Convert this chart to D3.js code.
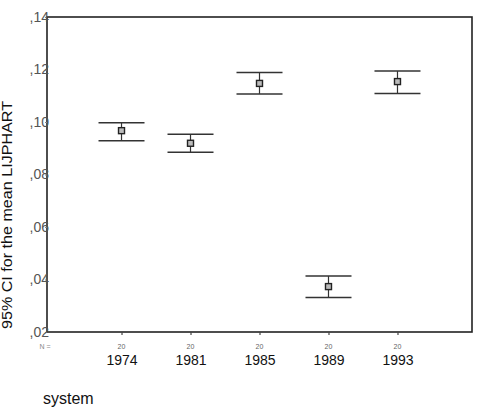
<!DOCTYPE html>
<html>
<head>
<meta charset="utf-8">
<script src="https://cdn.jsdelivr.net/npm/d3@7/dist/d3.min.js"></script>
<style>
  html, body { margin: 0; padding: 0; background: #fff; }
  svg { display: block; font-family: Arial, "Liberation Sans", sans-serif; }
</style>
</head>
<body>
<svg id="chart" width="482" height="409"></svg>
<script>
// Election years (categories), group sizes and 95% confidence intervals of LIJPHART
const years = ["1974", "1981", "1985", "1989", "1993"];
const nValues = [20, 20, 20, 20, 20];
const means = [0.0967, 0.0919, 0.1147, 0.0373, 0.1154];
const lower = [0.0929, 0.0885, 0.1107, 0.0331, 0.1109];
const upper = [0.0997, 0.0953, 0.1189, 0.0413, 0.1194];
const yTicks = [0.02, 0.04, 0.06, 0.08, 0.10, 0.12, 0.14];
const yTickLabels = [",02", ",04", ",06", ",08", ",10", ",12", ",14"];

const svg = d3.select("#chart");
const frame = { left: 47, right: 472, top: 17, bottom: 332 };

const x = d3.scalePoint()
  .domain(years)
  .range([frame.left, frame.right])
  .padding(1.08);

const y = d3.scaleLinear()
  .domain([0.02, 0.14])
  .range([frame.bottom, frame.top]);

// plot frame
svg.append("rect")
  .attr("x", frame.left).attr("y", frame.top)
  .attr("width", frame.right - frame.left)
  .attr("height", frame.bottom - frame.top)
  .attr("fill", "none")
  .attr("stroke", "#222")
  .attr("stroke-width", 1.6);

// y axis labels
const yAxis = d3.axisLeft(y)
  .tickValues(yTicks)
  .tickSize(2)
  .tickFormat((d, i) => yTickLabels[i]);
const gy = svg.append("g")
  .attr("transform", `translate(${frame.left},0)`)
  .attr("font-size", 14)
  .call(yAxis);
gy.attr("font-size", 14);
gy.select(".domain").remove();
gy.selectAll(".tick line").attr("stroke", "#888");
gy.selectAll(".tick text")
  .attr("x", 2)
  .attr("dy", "0.3em")
  .attr("fill", "#555")
  .attr("font-size", 14);

// x axis with year labels
const xAxis = d3.axisBottom(x).tickSize(3).tickPadding(20);
const gx = svg.append("g")
  .attr("transform", `translate(0,${frame.bottom})`)
  .call(xAxis);
gx.attr("font-size", 14);
gx.select(".domain").remove();
gx.selectAll(".tick line").attr("stroke", "#444").attr("stroke-width", 1.2);
gx.selectAll(".tick text")
  .attr("fill", "#111")
  .attr("font-size", 14);

// group sizes under each category
svg.append("g").selectAll("text")
  .data(years)
  .join("text")
  .attr("x", d => x(d))
  .attr("y", frame.bottom + 17)
  .attr("text-anchor", "middle")
  .attr("fill", "#666")
  .style("font-size", "7px")
  .text((d, i) => nValues[i]);

svg.append("text")
  .attr("x", 45)
  .attr("y", frame.bottom + 17)
  .attr("text-anchor", "middle")
  .attr("fill", "#888")
  .style("font-size", "7px")
  .text("N =");

// error bars
const capHalf = 23;
const bars = svg.append("g").selectAll("g")
  .data(years.map((yr, i) => ({ yr, m: means[i], lo: lower[i], hi: upper[i] })))
  .join("g");

bars.append("line")
  .attr("x1", d => x(d.yr)).attr("x2", d => x(d.yr))
  .attr("y1", d => y(d.hi)).attr("y2", d => y(d.lo))
  .attr("stroke", "#333").attr("stroke-width", 1.2);

bars.append("line")
  .attr("x1", d => x(d.yr) - capHalf).attr("x2", d => x(d.yr) + capHalf)
  .attr("y1", d => y(d.hi)).attr("y2", d => y(d.hi))
  .attr("stroke", "#333").attr("stroke-width", 1.5);

bars.append("line")
  .attr("x1", d => x(d.yr) - capHalf).attr("x2", d => x(d.yr) + capHalf)
  .attr("y1", d => y(d.lo)).attr("y2", d => y(d.lo))
  .attr("stroke", "#333").attr("stroke-width", 1.5);

bars.append("rect")
  .attr("x", d => x(d.yr) - 3).attr("y", d => y(d.m) - 3)
  .attr("width", 6).attr("height", 6)
  .attr("fill", "#bbb")
  .attr("stroke", "#222").attr("stroke-width", 1.4);

// axis titles
svg.append("text")
  .attr("transform", `translate(12,${(100 + 330) / 2}) rotate(-90)`)
  .attr("text-anchor", "middle")
  .attr("fill", "#111")
  .attr("textLength", 228)
  .attr("lengthAdjust", "spacingAndGlyphs")
  .style("font-size", "14px")
  .text("95% CI for the mean LIJPHART");

svg.append("text")
  .attr("x", 43)
  .attr("y", 404)
  .attr("fill", "#111")
  .style("font-size", "16px")
  .text("system");
</script>
</body>
</html>
